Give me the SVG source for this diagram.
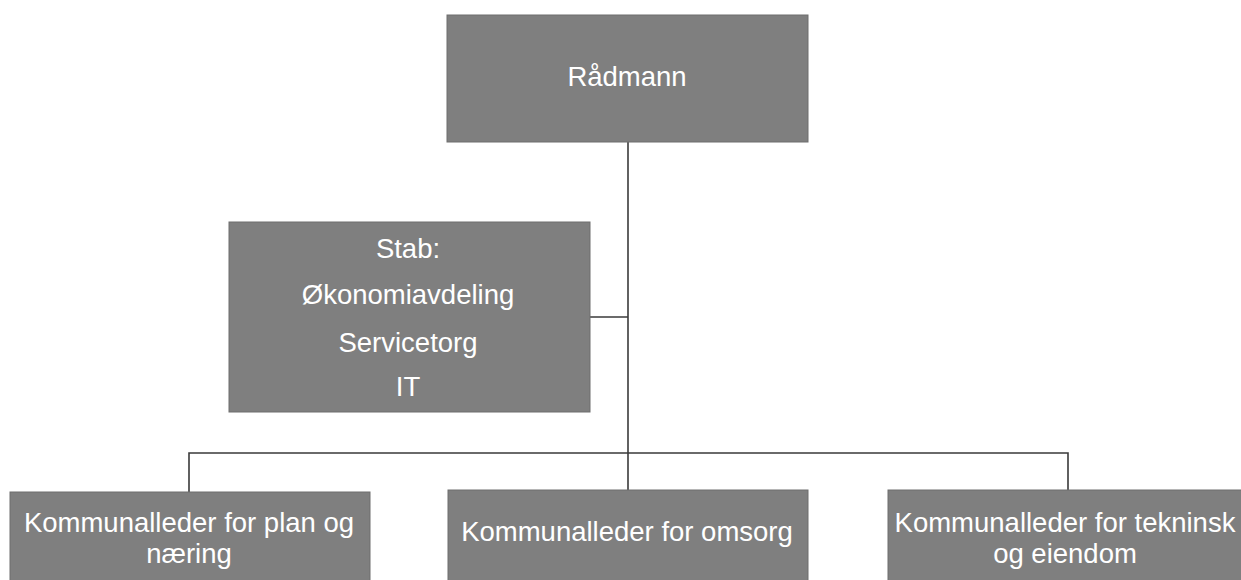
<svg xmlns="http://www.w3.org/2000/svg" width="1241" height="580" viewBox="0 0 1241 580">
<style>
.box{fill:#7f7f7f;stroke:#6e6e6e;stroke-width:1}
.t{fill:#ffffff;font-family:"Liberation Sans",Arial,sans-serif;font-size:27.5px;text-anchor:middle}
.c{stroke:#3a3a3a;stroke-width:1.6;fill:none}
</style>
<rect width="1241" height="580" fill="#ffffff"/>
<g id="connectors">
<line class="c" x1="628" y1="142" x2="628" y2="453"/>
<line class="c" x1="590" y1="317" x2="628" y2="317"/>
<polyline class="c" points="189,492 189,453 1068,453 1068,492"/>
<line class="c" x1="628" y1="453" x2="628" y2="491"/>
</g>
<g id="radmann">
<rect class="box" x="447" y="15" width="361" height="127"/>
<text class="t" x="627" y="86">Rådmann</text>
</g>
<g id="stab">
<rect class="box" x="229" y="222" width="361" height="190"/>
<text class="t" x="408" y="258">Stab:</text>
<text class="t" x="408" y="304">Økonomiavdeling</text>
<text class="t" x="408" y="352">Servicetorg</text>
<text class="t" x="408" y="396">IT</text>
</g>
<g id="plan">
<rect class="box" x="10" y="492" width="360" height="95"/>
<text class="t" x="189" y="532">Kommunalleder for plan og</text>
<text class="t" x="189" y="563">næring</text>
</g>
<g id="omsorg">
<rect class="box" x="448" y="490" width="360" height="97"/>
<text class="t" x="627" y="541">Kommunalleder for omsorg</text>
</g>
<g id="teknisk">
<rect class="box" x="888" y="490" width="360" height="97"/>
<text class="t" x="1065" y="532">Kommunalleder for tekninsk</text>
<text class="t" x="1065" y="563">og eiendom</text>
</g>
</svg>
